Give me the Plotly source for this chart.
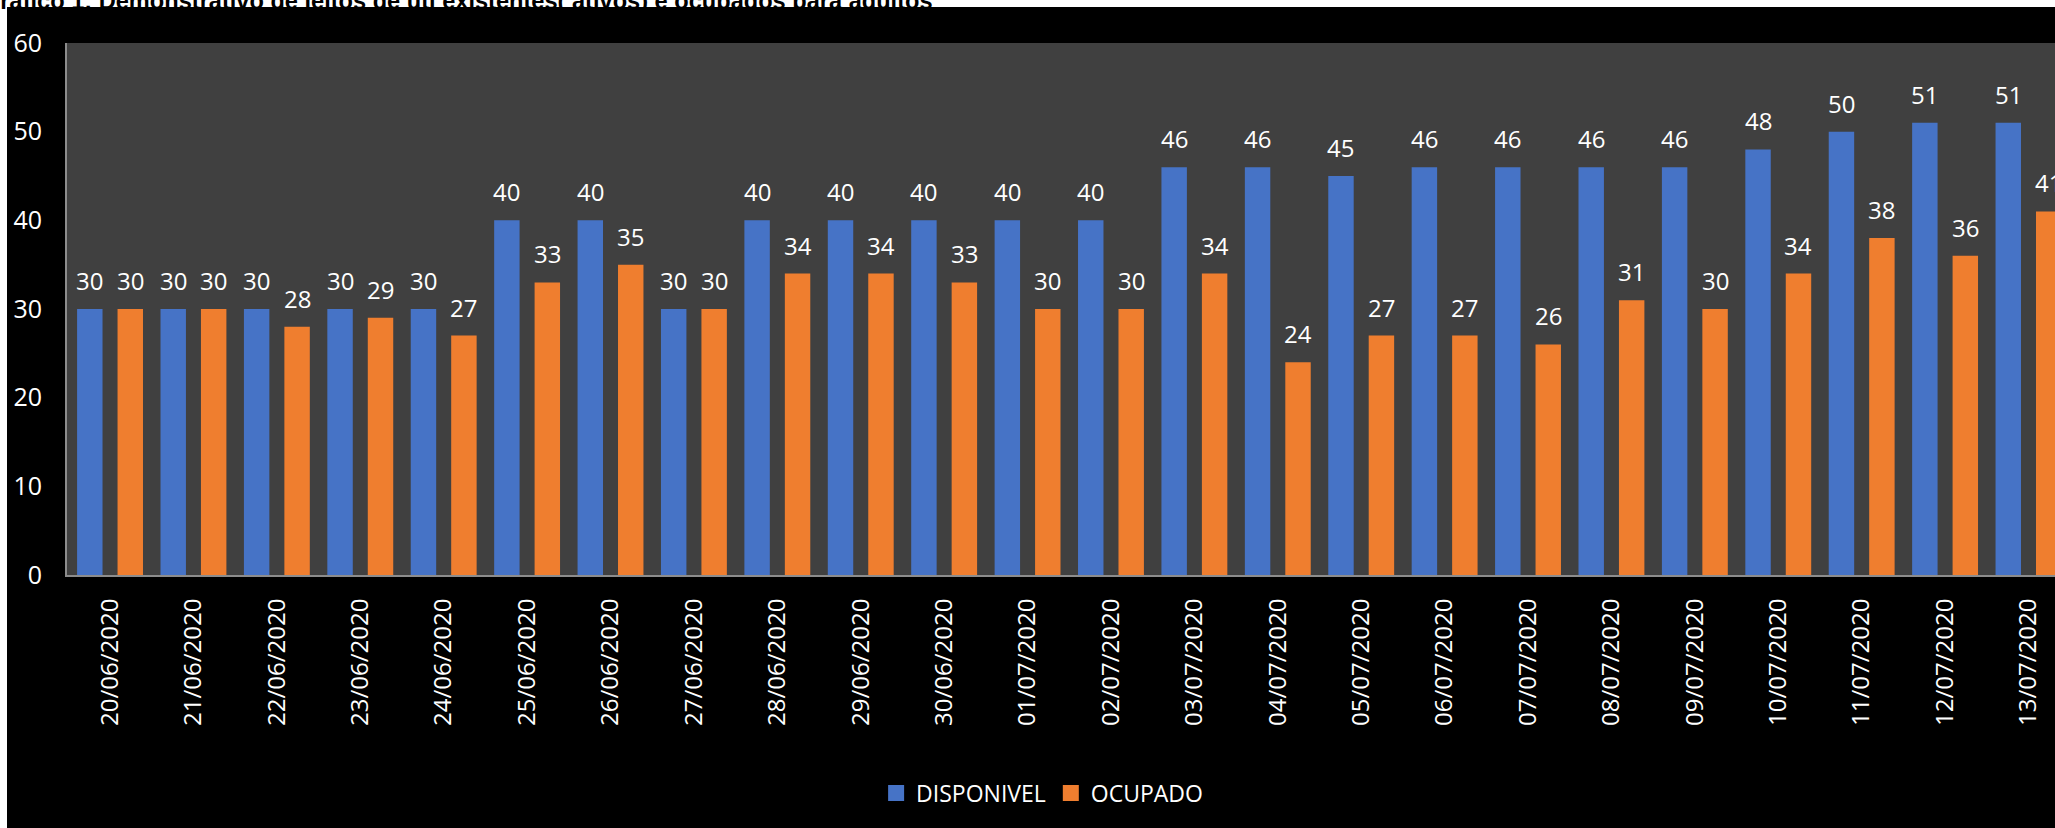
import plotly.graph_objects as go

# data
datas = ["20/06/2020", "21/06/2020", "22/06/2020", "23/06/2020", "24/06/2020",
         "25/06/2020", "26/06/2020", "27/06/2020", "28/06/2020", "29/06/2020",
         "30/06/2020", "01/07/2020", "02/07/2020", "03/07/2020", "04/07/2020",
         "05/07/2020", "06/07/2020", "07/07/2020", "08/07/2020", "09/07/2020",
         "10/07/2020", "11/07/2020", "12/07/2020", "13/07/2020"]
disponivel = [30, 30, 30, 30, 30, 40, 40, 30, 40, 40, 40, 40, 40,
              46, 46, 45, 46, 46, 46, 46, 48, 50, 51, 51]
ocupado = [30, 30, 28, 29, 27, 33, 35, 30, 34, 34, 33, 30, 30,
           34, 24, 27, 27, 26, 31, 30, 34, 38, 36, 41]
titulo = "Gráfico 1: Demonstrativo de leitos de uti existentes( ativos) e ocupados para adultos"

W, H = 2055, 828
ML, MT, MB = 67, 43, 253
AZUL = "#4673C6"
LARANJA = "#EF7E2F"
FONTE = "Open Sans"
BAR_W = 0.305
OFFS = {"DISPONIVEL": -0.395, "OCUPADO": 0.09}

idx = list(range(len(datas)))
plot_h = H - MT - MB
plot_w = W - ML


def px_x(p):
    return (p - ML) / plot_w


def px_y(p):
    return (H - MB - p) / plot_h


fig = go.Figure()
for nome, vals, cor in [("DISPONIVEL", disponivel, AZUL), ("OCUPADO", ocupado, LARANJA)]:
    fig.add_trace(go.Bar(
        x=idx, y=vals, name=nome, showlegend=False,
        width=BAR_W, offset=OFFS[nome],
        marker=dict(color=cor, line=dict(width=0)),
    ))
    # legend proxy with bigger square
    fig.add_trace(go.Scatter(
        x=[None], y=[None], mode="markers", name=nome,
        marker=dict(symbol="square", size=16, color=cor),
    ))
    # data labels
    for i, v in zip(idx, vals):
        fig.add_annotation(
            x=i + OFFS[nome] + BAR_W / 2, y=v, text=str(v),
            showarrow=False, yanchor="bottom", yshift=10,
            font=dict(family=FONTE, size=24, color="white"),
        )

# title strip (cut off at the top in the original)
fig.add_annotation(
    xref="paper", yref="paper", x=px_x(-20), y=px_y(16),
    xanchor="left", yanchor="bottom", showarrow=False,
    text="<b>" + titulo + "</b>",
    font=dict(family="Liberation Sans", size=23.6, color="black"),
)

# white border on top and left
fig.add_shape(type="rect", xref="paper", yref="paper", layer="below",
              x0=px_x(-5), x1=px_x(W + 5), y0=px_y(7), y1=px_y(-5),
              fillcolor="white", line=dict(width=0))
fig.add_shape(type="rect", xref="paper", yref="paper", layer="below",
              x0=px_x(-5), x1=px_x(7), y0=px_y(H + 5), y1=px_y(-5),
              fillcolor="white", line=dict(width=0))

fig.update_layout(
    width=W, height=H,
    margin=dict(l=ML, r=0, t=MT, b=MB),
    paper_bgcolor="black",
    plot_bgcolor="#404040",
    barmode="overlay",
    font=dict(family=FONTE, color="white", size=24),
    legend=dict(
        orientation="h", x=0.4905, xanchor="center", y=px_y(793), yanchor="middle",
        font=dict(family=FONTE, size=23, color="white"),
        bgcolor="rgba(0,0,0,0)",
    ),
)
fig.update_xaxes(
    range=[-0.516, (W - 110.3) / 83.4],
    tickmode="array", tickvals=idx, ticktext=datas,
    tickangle=-90, ticks="", showgrid=False, zeroline=False,
    showline=True, linecolor="#8C8C8C", linewidth=2,
    ticklabelstandoff=12,
    tickfont=dict(family=FONTE, size=24, color="white"),
)
fig.update_yaxes(
    range=[0, 60], dtick=10, ticks="", showgrid=False, zeroline=False,
    showline=True, linecolor="#8C8C8C", linewidth=2,
    ticklabelstandoff=18,
    tickfont=dict(family=FONTE, size=25, color="white"),
)

fig.write_html("out.html",
               config={"displayModeBar": False},
               post_script="document.body.style.margin='0';"
                           "document.body.style.overflow='hidden';")
